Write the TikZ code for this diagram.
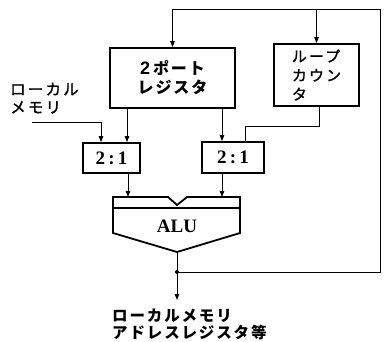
\documentclass[tikz,border=0pt]{standalone}
\usepackage{fontspec}
\usetikzlibrary{arrows.meta}
\newfontfamily\jp{Noto Sans CJK JP}[LetterSpace=12]
\newfontfamily\jpm{Noto Sans CJK JP}[LetterSpace=14, FakeBold=1.2]
\newfontfamily\lserif{Liberation Serif}
\newfontfamily\lsans{Liberation Sans}
\tikzset{
  box/.style={draw, line width=1.8pt, inner sep=0pt},
  conn/.style={line width=1pt},
  arr/.style={conn, -{Triangle[length=6pt,width=4.5pt]}},
  jptext/.style={font=\jpm\fontsize{15.5}{18}\selectfont},
  jpbold/.style={font=\jp\bfseries\fontsize{15.5}{18}\selectfont},
  numtext/.style={font=\lserif\bfseries\fontsize{19}{19}\selectfont},
}
\begin{document}
\begin{tikzpicture}[x=1pt,y=-1pt]
\useasboundingbox (0,0) rectangle (385,341);
% boxes
\node[box, minimum width=125pt, minimum height=60pt, align=center,
      font=\jp\bfseries\fontsize{16}{19}\selectfont] (reg) at (172.5,78)
      {{\lsans\bfseries\fontsize{18}{19}\selectfont 2}\hspace{3pt}ポート\\レジスタ};
\node[box, minimum width=85pt, minimum height=62pt, align=left,
      font=\jpm\fontsize{15}{19}\selectfont] (loop) at (316.5,75)
      {ループ\\カウン\\タ};
\node[box, minimum width=57pt, minimum height=30pt, numtext] (m1) at (111.5,158) {2\,:\,1};
\node[box, minimum width=62pt, minimum height=31pt, numtext] (m2) at (233,157.5) {2\,:\,1};
% ALU
\draw[line width=1.8pt, line join=miter] (113,197) -- (168,197) -- (177,205) -- (187,197) -- (240,197)
  -- (240,233) -- (177,252) -- (113,233) -- cycle;
\draw[line width=1.4pt] (113,208) -- (240,208);
\node[numtext, inner sep=0pt] (alu) at (177,226) {ALU};
% coordinates
\coordinate (aluin1) at (128,197);
\coordinate (aluin2) at (222,197);
\coordinate (alubot) at (177,252);
\coordinate (dot) at (177,272);
\coordinate (out) at (177,300);
\coordinate (br) at (380,272);
\coordinate (tr) at (380,9);
\coordinate (tl) at (172.5,9);
\coordinate (tb) at (316.5,9);
\coordinate (lmin) at (32,122);
\coordinate (m1l) at (101,0);
\coordinate (m1r) at (127,0);
\coordinate (m2l) at (222,0);
\coordinate (lo) at (319,0);
\coordinate (lturn) at (245,126);
% connectors
\draw[arr] (dot) -- (br) -- (tr) -- (tl) -- (reg.north);
\draw[arr] (tb) -- (loop.north);
\draw[arr] (lmin) -| (m1.north -| m1l);
\draw[arr] (reg.south -| m1r) -- (m1.north -| m1r);
\draw[arr] (reg.south -| m2l) -- (m2.north -| m2l);
\draw[conn] (loop.south -| lo) |- (lturn) -- (m2.north -| lturn);
\draw[arr] (m1.south -| aluin1) -- (aluin1);
\draw[arr] (m2.south -| aluin2) -- (aluin2);
\draw[arr] (alubot) -- (out);
\fill (dot) circle (2pt);
% labels
\node[jptext, anchor=base west, inner sep=0pt] (lm1) at (10,95) {ローカル};
\node[jptext, anchor=base west, inner sep=0pt] (lm2) at (10,113) {メモリ};
\node[jpbold, anchor=base west, inner sep=0pt] (o1) at (112,321) {ローカルメモリ};
\node[jpbold, anchor=base west, inner sep=0pt] (o2) at (112,338) {アドレスレジスタ等};
\end{tikzpicture}
\end{document}
